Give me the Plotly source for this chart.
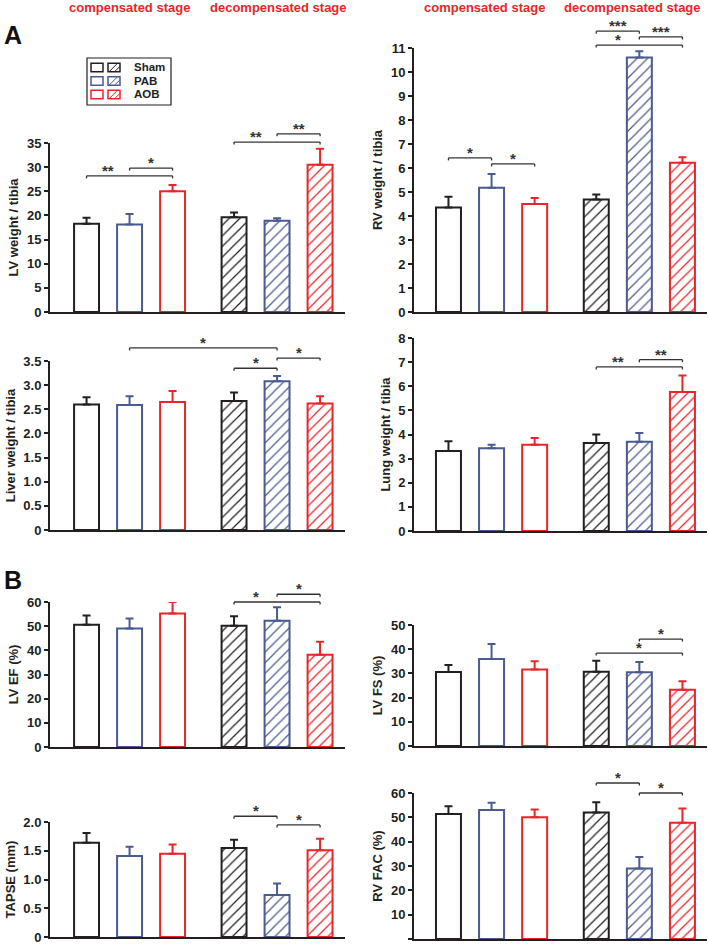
import plotly.graph_objects as go

W, H = 709, 946
FONT = "Liberation Sans, Arial, sans-serif"
INK = "#231f20"

# ---------------- data ----------------
groups = ["Sham", "PAB", "AOB"]
stages = ["compensated stage", "decompensated stage"]
# bar order in every panel: Sham, PAB, AOB (compensated) then Sham, PAB, AOB (decompensated)
positions = [0, 1, 2, 3.43, 4.43, 5.43]

lv_mean = [18.3, 18.1, 25.0, 19.6, 18.9, 30.5]
lv_top = [19.5, 20.3, 26.3, 20.6, 19.4, 33.8]

rv_mean = [4.35, 5.18, 4.5, 4.69, 10.6, 6.22]
rv_top = [4.8, 5.75, 4.75, 4.9, 10.86, 6.45]

liver_mean = [2.60, 2.59, 2.65, 2.67, 3.08, 2.62]
liver_top = [2.75, 2.77, 2.88, 2.85, 3.19, 2.77]

lung_mean = [3.32, 3.43, 3.57, 3.65, 3.70, 5.76]
lung_top = [3.72, 3.57, 3.85, 4.00, 4.06, 6.45]

ef_mean = [50.6, 49.0, 55.2, 50.2, 52.2, 38.2]
ef_top = [54.4, 53.2, 60.0, 54.1, 57.8, 43.6]

fs_mean = [30.6, 36.0, 31.6, 30.7, 30.5, 23.2]
fs_top = [33.5, 42.2, 35.0, 35.2, 34.7, 26.8]

tapse_mean = [1.64, 1.41, 1.45, 1.55, 0.73, 1.51]
tapse_top = [1.81, 1.57, 1.61, 1.69, 0.93, 1.71]

fac_mean = [51.4, 53.0, 50.0, 52.0, 29.0, 47.8]
fac_top = [54.6, 56.0, 53.2, 56.2, 33.7, 53.6]

# significance brackets: (bar i, bar j, height in data units, label, label position)
lv_sig = [(0, 2, 28.2, "**", 0.5), (1, 2, 29.8, "*", 1.5),
          (3, 5, 35.2, "**", 3.93), (4, 5, 36.9, "**", 4.93)]
rv_sig = [(0, 1, 6.42, "*", 0.5), (1, 2, 6.17, "*", 1.5),
          (3, 4, 11.7, "***", 3.93), (4, 5, 11.46, "***", 4.93),
          (3, 5, 11.12, "*", 3.93)]
liver_sig = [(1, 4, 3.77, "*", 2.71), (3, 4, 3.35, "*", 3.93), (4, 5, 3.56, "*", 4.93)]
lung_sig = [(3, 5, 6.8, "**", 3.93), (4, 5, 7.1, "**", 4.93)]
ef_sig = [(3, 5, 60.0, "*", 3.93), (4, 5, 63.2, "*", 4.93)]
fs_sig = [(3, 5, 38.4, "*", 4.43), (4, 5, 44.2, "*", 4.93)]
tapse_sig = [(3, 4, 2.10, "*", 3.93), (4, 5, 1.95, "*", 4.93)]
fac_sig = [(3, 4, 64.1, "*", 3.93), (4, 5, 60.0, "*", 4.93)]

lv_ticks = [0, 5, 10, 15, 20, 25, 30, 35]
rv_ticks = list(range(0, 12))
liver_ticks = [0, 0.5, 1.0, 1.5, 2.0, 2.5, 3.0, 3.5]
liver_ticktext = ["0", "0.5", "1.0", "1.5", "2.0", "2.5", "3.0", "3.5"]
lung_ticks = list(range(0, 9))
ef_ticks = [0, 10, 20, 30, 40, 50, 60]
fs_ticks = [0, 10, 20, 30, 40, 50]
tapse_ticks = [0, 0.5, 1.0, 1.5, 2.0]
tapse_ticktext = ["0", "0.5", "1.0", "1.5", "2.0"]
fac_ticks = [0, 10, 20, 30, 40, 50, 60]

panels = [
    ("LV weight / tibia", lv_mean, lv_top, lv_ticks, None, lv_sig),
    ("RV weight / tibia", rv_mean, rv_top, rv_ticks, None, rv_sig),
    ("Liver weight / tibia", liver_mean, liver_top, liver_ticks, liver_ticktext, liver_sig),
    ("Lung weight / tibia", lung_mean, lung_top, lung_ticks, None, lung_sig),
    ("LV EF (%)", ef_mean, ef_top, ef_ticks, None, ef_sig),
    ("LV FS (%)", fs_mean, fs_top, fs_ticks, None, fs_sig),
    ("TAPSE (mm)", tapse_mean, tapse_top, tapse_ticks, tapse_ticktext, tapse_sig),
    ("RV FAC (%)", fac_mean, fac_top, fac_ticks, None, fac_sig),
]

# ---------------- styling / layout geometry ----------------
colors = ["#231f20", "#4b5b8f", "#e8262a"]
col_px = [(50, 345), (414, 707)]
col_range = [(-0.85, 6.01), (-0.80, 6.0)]
row_px = [(143, 312), (48, 312), (361, 530), (338, 531),
          (602, 747), (625, 746), (822, 937), (793, 939)]

fig = go.Figure()
shapes = []
annotations = []
layout = {}

for k, (title, mean, top, ticks, ticktext, sig) in enumerate(panels):
    n = k + 1
    xa = "x" if n == 1 else f"x{n}"
    ya = "y" if n == 1 else f"y{n}"
    col = k % 2
    x0p, x1p = col_px[col]
    ytp, ybp = row_px[k]
    ymax = ticks[-1]
    hpx = ybp - ytp

    for g in range(3):
        idx = [g, g + 3]
        fig.add_trace(go.Bar(
            x=[positions[i] for i in idx],
            y=[mean[i] for i in idx],
            width=0.58,
            marker=dict(color="white",
                        line=dict(color=colors[g], width=2),
                        pattern=dict(shape=["", "/"], fgcolor=colors[g],
                                     bgcolor="white", size=7.5, solidity=0.16)),
            error_y=dict(type="data", symmetric=False,
                         array=[top[i] - mean[i] for i in idx],
                         arrayminus=[0, 0], color=colors[g],
                         thickness=2, width=4),
            name=groups[g], showlegend=False, hoverinfo="skip",
            xaxis=xa, yaxis=ya))

    layout["xaxis" if n == 1 else f"xaxis{n}"] = dict(
        domain=[x0p / W, x1p / W], range=list(col_range[col]), anchor=ya,
        showline=True, linewidth=2, linecolor=INK, ticks="",
        showticklabels=False, showgrid=False, zeroline=False, automargin=False)
    layout["yaxis" if n == 1 else f"yaxis{n}"] = dict(
        domain=[1 - ybp / H, 1 - ytp / H], range=[0, ymax], anchor=xa,
        showline=True, linewidth=2, linecolor=INK,
        ticks="outside", ticklen=4, tickwidth=2, tickcolor=INK,
        tickvals=ticks, ticktext=ticktext if ticktext else [str(t) for t in ticks],
        tickfont=dict(family=FONT, size=13, color=INK, weight="bold"),
        title=dict(text=title, standoff=5,
                   font=dict(family=FONT, size=13, color=INK, weight="bold")),
        showgrid=False, zeroline=False, automargin=False)

    drop = 2.5 / hpx
    for (i, j, v, lab, lx) in sig:
        yb = v / ymax
        xi, xj = positions[i], positions[j]
        for (ax0, ay0, ax1, ay1) in [(xi, yb - drop, xi, yb), (xi, yb, xj, yb),
                                      (xj, yb, xj, yb - drop)]:
            shapes.append(dict(type="line", xref=xa, yref=ya + " domain",
                               x0=ax0, y0=ay0, x1=ax1, y1=ay1,
                               line=dict(color="#333333", width=1.3)))
        annotations.append(dict(x=lx, y=yb, xref=xa, yref=ya + " domain",
                                text=lab, showarrow=False, yanchor="bottom",
                                yshift=-5, font=dict(family=FONT, size=15,
                                                     color="#333333", weight="bold")))

# stage headings
for cx, txt in [(129, stages[0]), (278, stages[1]), (484, stages[0]), (632, stages[1])]:
    annotations.append(dict(x=cx / W, y=1 - 8 / H, xref="paper", yref="paper",
                            text=txt, showarrow=False, xanchor="center", yanchor="middle",
                            font=dict(family=FONT, size=13, color="#e8262a", weight="bold")))

# panel letters
for cy, txt in [(35, "A"), (580, "B")]:
    annotations.append(dict(x=13 / W, y=1 - cy / H, xref="paper", yref="paper",
                            text=txt, showarrow=False, xanchor="center", yanchor="middle",
                            font=dict(family=FONT, size=25, color="#111111", weight="bold")))


# legend box (drawn)
def px(x, y):
    return x / W, 1 - y / H


bx0, by0 = px(87, 58)
bx1, by1 = px(171, 105)
shapes.append(dict(type="rect", xref="paper", yref="paper", x0=bx0, y0=by0, x1=bx1, y1=by1,
                   line=dict(color=INK, width=1.2), fillcolor="white"))
for r, (g, cy) in enumerate(zip(groups, [67.5, 81, 94.5])):
    c = colors[r]
    a0, b0 = px(91, cy - 4.3)
    a1, b1 = px(103, cy + 4.3)
    shapes.append(dict(type="rect", xref="paper", yref="paper", x0=a0, y0=b0, x1=a1, y1=b1,
                       line=dict(color=c, width=1.5)))
    a0, b0 = px(108, cy - 4.3)
    a1, b1 = px(120, cy + 4.3)
    shapes.append(dict(type="rect", xref="paper", yref="paper", x0=a0, y0=b0, x1=a1, y1=b1,
                       line=dict(color=c, width=1.5)))
    for (sx0, sy0, sx1, sy1) in [(109, cy + 4.3, 117.6, cy - 4.3), (114.5, cy + 4.3, 120, cy - 1.2)]:
        p0 = px(sx0, sy0)
        p1 = px(sx1, sy1)
        shapes.append(dict(type="line", xref="paper", yref="paper",
                           x0=p0[0], y0=p0[1], x1=p1[0], y1=p1[1], line=dict(color=c, width=1)))
    tx, ty = px(132, cy)
    annotations.append(dict(x=tx, y=ty, xref="paper", yref="paper", text=g, showarrow=False,
                            xanchor="left", yanchor="middle",
                            font=dict(family=FONT, size=11.5, color=INK, weight="bold")))

fig.update_layout(
    width=W, height=H, margin=dict(l=0, r=0, t=0, b=0),
    paper_bgcolor="white", plot_bgcolor="white",
    showlegend=False, barmode="overlay", template="none",
    shapes=shapes, annotations=annotations, **layout)

fig.write_html("out.html", config={"displayModeBar": False},
               post_script="document.body.style.margin='0';document.body.style.overflow='hidden';")
